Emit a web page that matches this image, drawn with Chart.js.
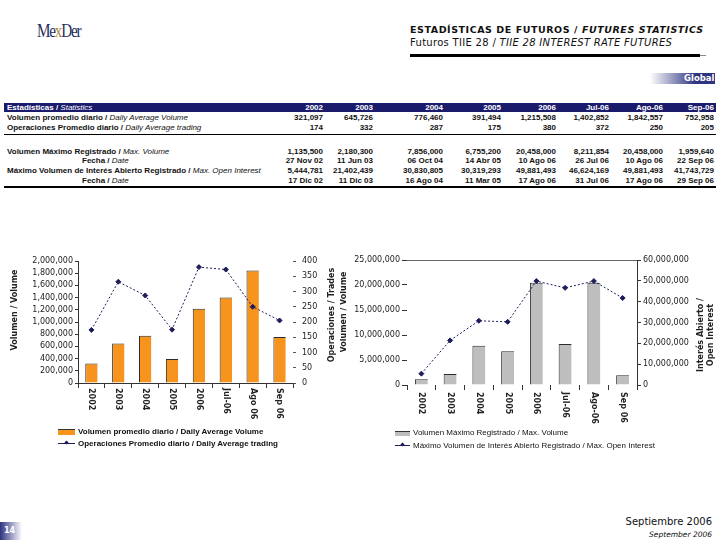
<!DOCTYPE html>
<html>
<head>
<meta charset="utf-8">
<script src="https://cdn.jsdelivr.net/npm/chart.js@4.4.0/dist/chart.umd.min.js"></script>
<style>
  body { margin:0; background:#fff; }
  #page { position:relative; width:720px; height:540px; overflow:hidden; font-family:"Liberation Sans", Arial, sans-serif; color:#111; }
  .abs { position:absolute; white-space:nowrap; }
  .cell { position:absolute; white-space:nowrap; font:bold 8px "Liberation Sans", Arial, sans-serif; line-height:9px; }
  .cell i { font-weight:normal; }
  canvas { position:absolute; }
</style>
</head>
<body>
<div id="page">
  <!-- logo -->
  <div class="abs" style="left:37px;top:20px;font:19px 'Liberation Serif',serif;color:#1f2d5c;letter-spacing:-1.5px;transform:scaleX(0.8);transform-origin:left;">Me<span style="color:#b08a48">x</span>Der</div>

  <!-- titulo -->
  <div class="abs" style="left:410px;top:24px;font:bold 9.5px 'DejaVu Sans',sans-serif;letter-spacing:0.55px;">ESTADÍSTICAS DE FUTUROS / <i>FUTURES STATISTICS</i></div>
  <div class="abs" style="left:410px;top:37px;font:10px 'DejaVu Sans',sans-serif;letter-spacing:0.3px;">Futuros TIIE 28 / <i>TIIE 28 INTEREST RATE FUTURES</i></div>
  <div class="abs" style="left:410px;top:54px;width:290px;height:3px;background:#000;"></div>
  <div class="abs" style="left:700px;top:55px;width:6px;height:1px;background:#888;"></div>

  <div class="abs" style="left:650px;top:73px;width:65px;height:11px;background:linear-gradient(to right,#fff,#2e3480 70%);"></div>
  <div class="abs" style="left:684px;top:73px;font:bold 8.5px 'DejaVu Sans',sans-serif;color:#fff;line-height:11px;">Global</div>

  <!-- tabla -->
  <div class="abs" style="left:4px;top:103px;width:712px;height:9px;background:#1b1b6b;"></div>
  <div class="abs" style="left:4px;top:134px;width:712px;height:1px;background:#000;"></div>
  <div class="abs" style="left:4px;top:186px;width:712px;height:2px;background:#000;"></div>
  <div id="table"></div>

  <canvas id="volChart" width="345" height="180" style="left:0;top:250px;width:345px;height:180px;"></canvas>
  <canvas id="maxChart" width="380" height="180" style="left:340px;top:250px;width:380px;height:180px;"></canvas>

  <!-- leyendas -->
  <div class="abs" style="left:58px;top:429px;width:17px;height:5px;background:#f7941d;border-top:1px solid #333;"></div>
  <div class="cell" style="left:78px;top:427px;">Volumen promedio diario / Daily Average Volume</div>
  <div class="abs" style="left:58px;top:443px;width:17px;height:1px;background:#1d1d5a;"></div>
  <div class="abs" style="left:65px;top:441px;width:3px;height:3px;background:#1d1d5a;transform:rotate(45deg);"></div>
  <div class="cell" style="left:78px;top:439px;">Operaciones Promedio diario / Daily Average trading</div>

  <div class="abs" style="left:395px;top:431px;width:15px;height:4px;background:#bebebe;border-top:1px solid #333;"></div>
  <div class="cell" style="left:413px;top:428px;font-weight:normal;font-size:8px;">Volumen Máximo Registrado / Max. Volume</div>
  <div class="abs" style="left:395px;top:445px;width:15px;height:1px;background:#1d1d5a;"></div>
  <div class="abs" style="left:401px;top:443px;width:3px;height:3px;background:#1d1d5a;transform:rotate(45deg);"></div>
  <div class="cell" style="left:413px;top:441px;font-weight:normal;font-size:8px;">Máximo Volumen de Interés Abierto Registrado / Max. Open Interest</div>

  <!-- pie -->
  <div class="abs" style="left:0;top:522px;width:22px;height:18px;background:linear-gradient(to right,#2e3480,#fff);"></div>
  <div class="abs" style="left:4px;top:526px;font:bold 8px 'DejaVu Sans',sans-serif;color:#fff;">14</div>
  <div class="abs" style="right:8px;top:516px;font:10px 'DejaVu Sans',sans-serif;">Septiembre 2006</div>
  <div class="abs" style="right:8px;top:530px;font:italic 7.5px 'DejaVu Sans',sans-serif;">September 2006</div>
</div>

<script>
// datos
var tableHeads = ['2002', '2003', '2004', '2005', '2006', 'Jul-06', 'Ago-06', 'Sep-06'];
var volCats = ['2002', '2003', '2004', '2005', '2006', 'Jul-06', 'Ago 06', 'Sep 06'];
var maxCats = ['2002', '2003', '2004', '2005', '2006', 'Jul-06', 'Ago-06', 'Sep 06'];
var avgVolume = [321097, 645726, 776460, 391494, 1215508, 1402852, 1842557, 752958];
var avgTrades = [174, 332, 287, 175, 380, 372, 250, 205];
var maxVolume = [1135500, 2180300, 7856000, 6755200, 20458000, 8211854, 20458000, 1959640];
var maxVolDates = ['27 Nov 02', '11 Jun 03', '06 Oct 04', '14 Abr 05', '10 Ago 06', '26 Jul 06', '10 Ago 06', '22 Sep 06'];
var maxOpenInt = [5444781, 21402439, 30830805, 30319293, 49881493, 46624169, 49881493, 41743729];
var maxOIDates = ['17 Dic 02', '11 Dic 03', '16 Ago 04', '11 Mar 05', '17 Ago 06', '31 Jul 06', '17 Ago 06', '29 Sep 06'];

var fmt = function (v) { return v.toLocaleString('en-US'); };

// tabla
var colRight = [323, 373, 443, 501, 556, 609, 663, 714];
var rows = [
    { y: 103, label: 'Estadísticas / <i>Statistics</i>', left: 7, vals: tableHeads, color: '#fff' },
    { y: 113, label: 'Volumen promedio diario / <i>Daily Average Volume</i>', left: 7, vals: avgVolume.map(fmt) },
    { y: 123, label: 'Operaciones Promedio diario / <i>Daily Average trading</i>', left: 7, vals: avgTrades.map(fmt) },
    { y: 147, label: 'Volumen Máximo Registrado / <i>Max. Volume</i>', left: 7, vals: maxVolume.map(fmt) },
    { y: 156, label: 'Fecha / <i>Date</i>', left: 82, vals: maxVolDates },
    { y: 166, label: 'Máximo Volumen de Interés Abierto Registrado / <i>Max. Open Interest</i>', left: 7, vals: maxOpenInt.map(fmt) },
    { y: 176, label: 'Fecha / <i>Date</i>', left: 82, vals: maxOIDates }
];
var html = '';
rows.forEach(function (r) {
    var c = r.color ? 'color:' + r.color + ';' : '';
    html += '<div class="cell" style="left:' + r.left + 'px;top:' + r.y + 'px;' + c + '">' + r.label + '</div>';
    r.vals.forEach(function (v, i) {
        html += '<div class="cell" style="right:' + (720 - colRight[i]) + 'px;top:' + r.y + 'px;' + c + '">' + v + '</div>';
    });
});
document.getElementById('table').innerHTML = html;

// etiquetas del eje x giradas y titulos de ejes
var sideText = {
    id: 'sideText',
    afterDraw: function (chart, args, opts) {
        var ctx = chart.ctx, xs = chart.scales.x, area = chart.chartArea;
        ctx.save();
        ctx.fillStyle = '#222';
        ctx.font = 'bold 8px "DejaVu Sans", sans-serif';
        ctx.textAlign = 'left';
        ctx.textBaseline = 'middle';
        chart.data.labels.forEach(function (lab, i) {
            ctx.save();
            ctx.translate(xs.getPixelForValue(i), area.bottom + opts.gap);
            ctx.rotate(Math.PI / 2);
            ctx.fillText(lab, 0, 0);
            ctx.restore();
        });
        ctx.textAlign = 'center';
        opts.titles.forEach(function (t) {
            ctx.save();
            ctx.translate(t.x, t.y);
            ctx.rotate(-Math.PI / 2);
            ctx.fillText(t.text, 0, 0);
            ctx.restore();
        });
        ctx.restore();
    }
};

var tickFont = { family: '"DejaVu Sans", sans-serif', size: 8 };
var lineColor = '#1d1d5a';

new Chart(document.getElementById('volChart'), {
    data: {
        labels: volCats,
        datasets: [
            {
                type: 'line', label: 'Operaciones Promedio diario / Daily Average trading', data: avgTrades, yAxisID: 'y1',
                borderColor: lineColor, borderWidth: 1, borderDash: [2, 2], pointStyle: 'rectRot', pointRadius: 2.5,
                pointBackgroundColor: lineColor, pointBorderColor: lineColor, tension: 0, order: 0
            },
            {
                type: 'bar', label: 'Volumen promedio diario / Daily Average Volume', data: avgVolume, yAxisID: 'y',
                backgroundColor: '#f7941d', borderColor: '#2b2b2b', borderWidth: { top: 1, left: 1, right: 0, bottom: 0 },
                borderSkipped: false, barPercentage: 0.46, categoryPercentage: 1, order: 1
            }
        ]
    },
    options: {
        responsive: false,
        animation: false,
        layout: { padding: { top: 11 } },
        plugins: {
            legend: { display: false },
            tooltip: { enabled: false },
            sideText: {
                gap: 5,
                titles: [{ x: 15, y: 60, text: 'Volumen / Volume' }, { x: 332, y: 65, text: 'Operaciones / Trades' }]
            }
        },
        scales: {
            x: {
                ticks: { display: false },
                grid: { drawOnChartArea: false, tickLength: 5, color: '#333', offset: true },
                border: { color: '#333' },
                afterFit: function (s) { s.height = 47; }
            },
            y: {
                position: 'left', min: 0, max: 2000000,
                ticks: { stepSize: 200000, autoSkip: false, font: tickFont, color: '#222', padding: 2, callback: fmt },
                grid: { drawOnChartArea: false, tickLength: 3, color: '#333' },
                border: { color: '#333' },
                afterFit: function (s) { s.width = 78; }
            },
            y1: {
                position: 'right', min: 0, max: 400,
                ticks: { stepSize: 50, autoSkip: false, font: tickFont, color: '#222', padding: 6 },
                grid: { drawOnChartArea: false, tickLength: 3, color: '#555' },
                border: { display: false },
                afterFit: function (s) { s.width = 52; }
            }
        }
    },
    plugins: [sideText]
});

new Chart(document.getElementById('maxChart'), {
    data: {
        labels: maxCats,
        datasets: [
            {
                type: 'line', label: 'Máximo Volumen de Interés Abierto Registrado / Max. Open Interest', data: maxOpenInt, yAxisID: 'y1',
                borderColor: lineColor, borderWidth: 1, borderDash: [2, 2], pointStyle: 'rectRot', pointRadius: 2.5,
                pointBackgroundColor: lineColor, pointBorderColor: lineColor, tension: 0, order: 0
            },
            {
                type: 'bar', label: 'Volumen Máximo Registrado / Max. Volume', data: maxVolume, yAxisID: 'y',
                backgroundColor: '#bebebe', borderColor: '#2b2b2b', borderWidth: { top: 1, left: 1, right: 0, bottom: 0 },
                borderSkipped: false, barPercentage: 0.45, categoryPercentage: 1, order: 1
            }
        ]
    },
    options: {
        responsive: false,
        animation: false,
        layout: { padding: { top: 10 } },
        plugins: {
            legend: { display: false },
            tooltip: { enabled: false },
            sideText: {
                gap: 7,
                titles: [
                    { x: 4, y: 62, text: 'Volumen / Volume' },
                    { x: 361, y: 85, text: 'Interés Abierto /' },
                    { x: 371, y: 85, text: 'Open Interest' }
                ]
            }
        },
        scales: {
            x: {
                ticks: { display: false },
                grid: { drawOnChartArea: false, tickLength: 5, color: '#333', offset: true },
                border: { display: false },
                afterFit: function (s) { s.height = 45; }
            },
            y: {
                position: 'left', min: 0, max: 25000000,
                ticks: { stepSize: 5000000, autoSkip: false, font: tickFont, color: '#222', padding: 2, callback: fmt },
                grid: {
                    tickLength: 5, tickColor: '#333',
                    color: function (c) { return c.tick && c.tick.value === 25000000 ? '#666' : 'rgba(0,0,0,0)'; }
                },
                border: { display: false },
                afterFit: function (s) { s.width = 67; }
            },
            y1: {
                position: 'right', min: 0, max: 60000000,
                ticks: { stepSize: 10000000, autoSkip: false, font: tickFont, color: '#222', padding: 2, callback: fmt },
                grid: { drawOnChartArea: false, tickLength: 4, color: '#333' },
                border: { color: '#333' },
                afterFit: function (s) { s.width = 83; }
            }
        }
    },
    plugins: [sideText]
});
</script>
</body>
</html>
